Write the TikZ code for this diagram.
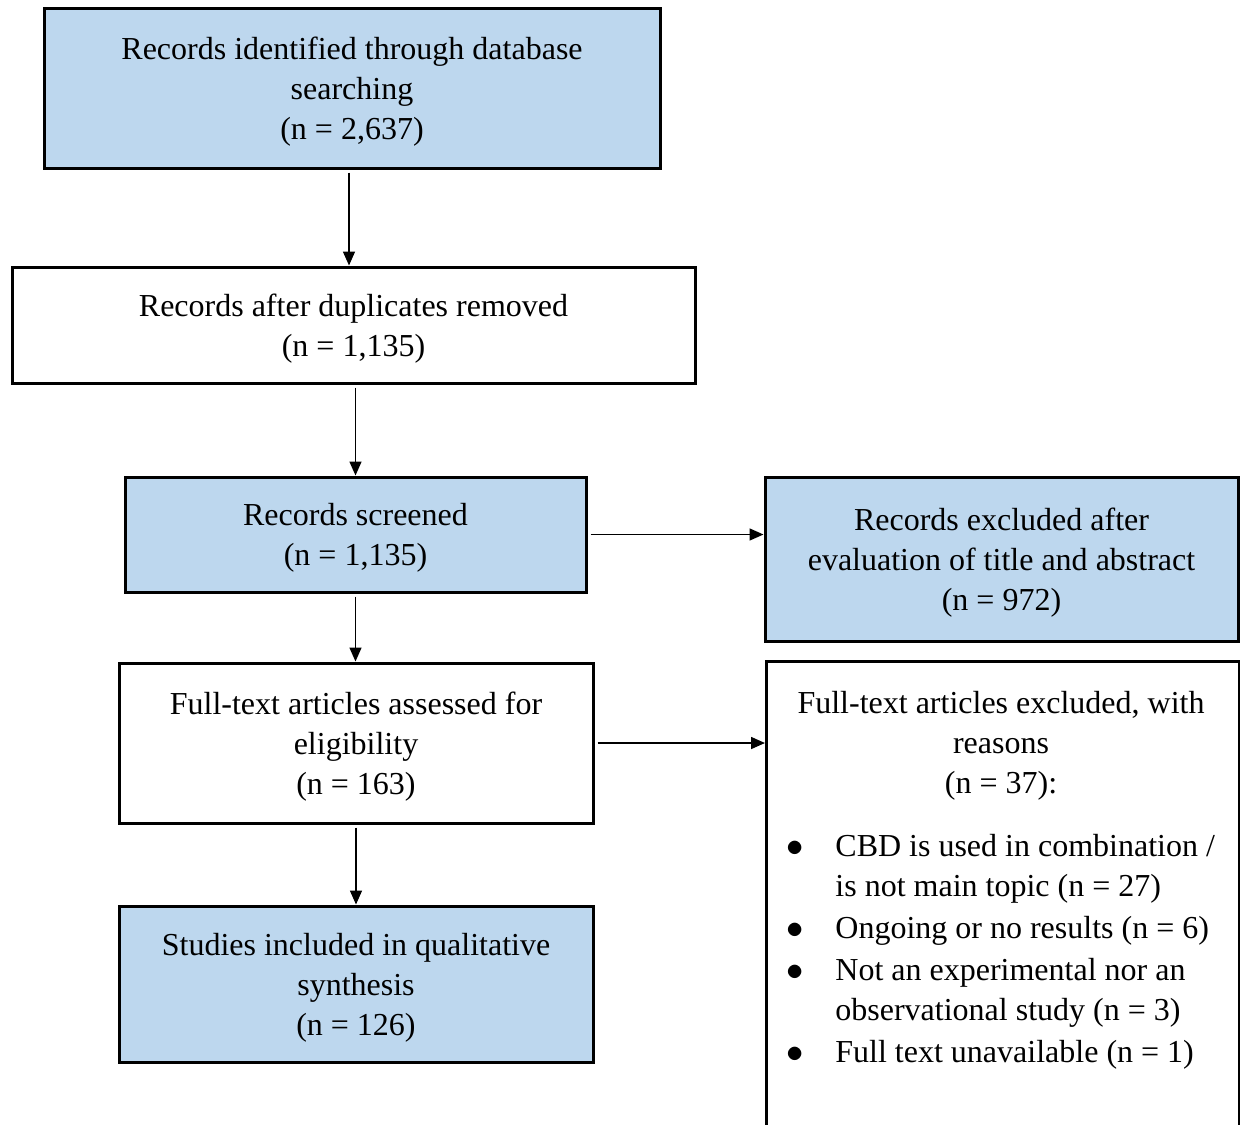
\documentclass[tikz,border=0pt]{standalone}
\usepackage{fontspec}
\setmainfont{Liberation Serif}
\usetikzlibrary{arrows.meta}
\definecolor{boxblue}{HTML}{BDD7EE}
\tikzset{
  every node/.style={font=\fontsize{16pt}{20pt}\selectfont},
  box/.style={draw=black, line width=1.5pt, align=center, inner sep=0pt, text depth=0pt},
  bluebox/.style={box, fill=boxblue},
  arr/.style={-{Triangle[length=7pt,width=6pt]}, line width=0.75pt, shorten <=1.5pt}
}
\newcommand{\bul}{$\bullet$}

\begin{document}
\begin{tikzpicture}[x=0.5pt, y=-0.5pt]
  \useasboundingbox (0,0) rectangle (1240,1124);

  % Left column
  \node[bluebox, minimum width=616*0.5pt, minimum height=160*0.5pt] (ident) at (352,88)
    {Records identified through database\\searching\\(n = 2,637)};
  \node[box, minimum width=683*0.5pt, minimum height=116*0.5pt] (dupl) at (353.5,325)
    {Records after duplicates removed\\(n = 1,135)};
  \node[bluebox, minimum width=461*0.5pt, minimum height=115*0.5pt] (screen) at (355.5,534.5)
    {Records screened\\(n = 1,135)};
  \node[box, minimum width=474*0.5pt, minimum height=160*0.5pt] (full) at (356,743)
    {Full-text articles assessed for\\eligibility\\(n = 163)};
  \node[bluebox, minimum width=474*0.5pt, minimum height=156*0.5pt] (incl) at (356,984)
    {Studies included in qualitative\\synthesis\\(n = 126)};

  % Right column
  \node[bluebox, minimum width=473*0.5pt, minimum height=164*0.5pt] (excl) at (1001.5,559)
    {Records excluded after\\evaluation of title and abstract\\(n = 972)};
  \node[box, minimum width=473*0.5pt, minimum height=500*0.5pt, anchor=north west] (reasons) at (765,660) {};
  \node[align=center, text depth=0pt] (reasonshead) at (1001,742)
    {Full-text articles excluded, with\\reasons\\(n = 37):};
  \node[anchor=north west, inner sep=0pt] (reasonlist) at (786,828)
    {\begin{tabular}{@{}p{24.5pt}@{}l@{}}
      \bul & CBD is used in combination /\\
           & is not main topic (n = 27)\\[1pt]
      \bul & Ongoing or no results (n = 6)\\[1pt]
      \bul & Not an experimental nor an\\
           & observational study (n = 3)\\[1pt]
      \bul & Full text unavailable (n = 1)
    \end{tabular}};

  % Arrows
  \draw[arr] ([xshift=-1.5pt]ident.south) -- ([xshift=-1.5pt]ident.south |- dupl.north);
  \draw[arr] ([xshift=1pt]dupl.south) -- ([xshift=1pt]dupl.south |- screen.north);
  \draw[arr] (screen.south) -- (screen.south |- full.north);
  \draw[arr] (full.south) -- (incl.north);
  \draw[arr] (screen.east) -- (screen.east -| excl.west);
  \draw[arr] (full.east) -- (full.east -| reasons.west);
\end{tikzpicture}
\end{document}
